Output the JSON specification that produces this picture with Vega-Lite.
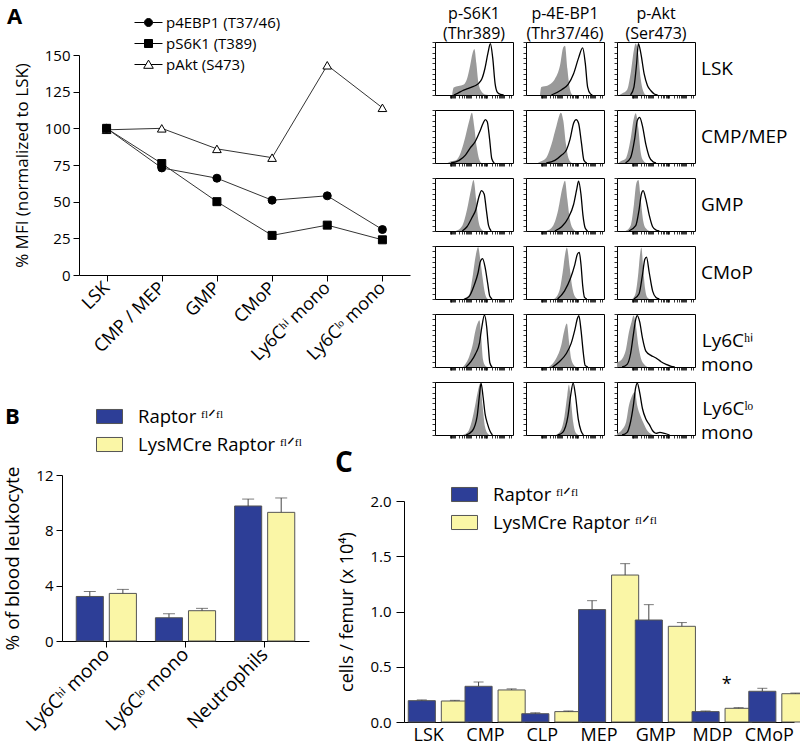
{
"$schema": "https://vega.github.io/schema/vega-lite/v6.json",
"padding": {"left": 3, "top": 6, "right": 2, "bottom": 0},
"config": {
  "font": "Open Sans",
  "view": {"stroke": "black", "strokeWidth": 1},
  "axis": {"domainColor": "black", "tickColor": "black", "labelColor": "black", "titleColor": "black", "grid": false, "titleFontWeight": "normal", "domainWidth": 1, "tickWidth": 1},
  "legend": {"labelColor": "black", "padding": 0, "labelLimit": 400},
  "title": {"fontWeight": "bold", "fontSize": 22, "anchor": "start", "color": "black", "offset": 0, "frame": "group"},
  "header": {"labelColor": "black"}
},
"datasets": {
  "a": [
    {"pop":"LSK","i":0,"m":"pAkt (S473)","v":99},
    {"pop":"CMP / MEP","i":1,"m":"pAkt (S473)","v":100},
    {"pop":"GMP","i":2,"m":"pAkt (S473)","v":86},
    {"pop":"CMoP","i":3,"m":"pAkt (S473)","v":80},
    {"pop":"Ly6Cʰⁱ mono","i":4,"m":"pAkt (S473)","v":143},
    {"pop":"Ly6Cˡᵒ mono","i":5,"m":"pAkt (S473)","v":114},
    {"pop":"LSK","i":0,"m":"p4EBP1 (T37/46)","v":100},
    {"pop":"CMP / MEP","i":1,"m":"p4EBP1 (T37/46)","v":73},
    {"pop":"GMP","i":2,"m":"p4EBP1 (T37/46)","v":66},
    {"pop":"CMoP","i":3,"m":"p4EBP1 (T37/46)","v":51},
    {"pop":"Ly6Cʰⁱ mono","i":4,"m":"p4EBP1 (T37/46)","v":54},
    {"pop":"Ly6Cˡᵒ mono","i":5,"m":"p4EBP1 (T37/46)","v":31},
    {"pop":"LSK","i":0,"m":"pS6K1 (T389)","v":100},
    {"pop":"CMP / MEP","i":1,"m":"pS6K1 (T389)","v":76},
    {"pop":"GMP","i":2,"m":"pS6K1 (T389)","v":50},
    {"pop":"CMoP","i":3,"m":"pS6K1 (T389)","v":27},
    {"pop":"Ly6Cʰⁱ mono","i":4,"m":"pS6K1 (T389)","v":34},
    {"pop":"Ly6Cˡᵒ mono","i":5,"m":"pS6K1 (T389)","v":24}
  ],
  "b": [
    {"cell":"Ly6Cʰⁱ mono","g":"R","v":3.22,"e":3.58},
    {"cell":"Ly6Cʰⁱ mono","g":"L","v":3.44,"e":3.73},
    {"cell":"Ly6Cˡᵒ mono","g":"R","v":1.68,"e":1.97},
    {"cell":"Ly6Cˡᵒ mono","g":"L","v":2.19,"e":2.36},
    {"cell":"Neutrophils","g":"R","v":9.76,"e":10.26},
    {"cell":"Neutrophils","g":"L","v":9.30,"e":10.34}
  ],
  "c": [
    {"cell":"LSK","g":"R","v":0.193,"e":0.2,"sig":""},
    {"cell":"LSK","g":"L","v":0.19,"e":0.196,"sig":""},
    {"cell":"CMP","g":"R","v":0.323,"e":0.362,"sig":""},
    {"cell":"CMP","g":"L","v":0.29,"e":0.3,"sig":""},
    {"cell":"CLP","g":"R","v":0.075,"e":0.084,"sig":""},
    {"cell":"CLP","g":"L","v":0.094,"e":0.1,"sig":""},
    {"cell":"MEP","g":"R","v":1.017,"e":1.098,"sig":""},
    {"cell":"MEP","g":"L","v":1.33,"e":1.433,"sig":""},
    {"cell":"GMP","g":"R","v":0.923,"e":1.062,"sig":""},
    {"cell":"GMP","g":"L","v":0.866,"e":0.9,"sig":""},
    {"cell":"MDP","g":"R","v":0.094,"e":0.1,"sig":""},
    {"cell":"MDP","g":"L","v":0.124,"e":0.13,"sig":"*"},
    {"cell":"CMoP","g":"R","v":0.278,"e":0.305,"sig":""},
    {"cell":"CMoP","g":"L","v":0.256,"e":0.262,"sig":""}
  ],
  "h": [
    {"p":"LSK","a":"S6K1","s":"i","x":22,"y":0},{"p":"LSK","a":"S6K1","s":"i","x":24,"y":14},{"p":"LSK","a":"S6K1","s":"i","x":30,"y":17},{"p":"LSK","a":"S6K1","s":"i","x":37,"y":20},{"p":"LSK","a":"S6K1","s":"i","x":41,"y":30},{"p":"LSK","a":"S6K1","s":"i","x":45,"y":55},{"p":"LSK","a":"S6K1","s":"i","x":48,"y":78},{"p":"LSK","a":"S6K1","s":"i","x":50.5,"y":87},{"p":"LSK","a":"S6K1","s":"i","x":53,"y":60},{"p":"LSK","a":"S6K1","s":"i","x":55.5,"y":25},{"p":"LSK","a":"S6K1","s":"i","x":59,"y":8},{"p":"LSK","a":"S6K1","s":"i","x":64,"y":1},{"p":"LSK","a":"S6K1","s":"i","x":68,"y":0},
    {"p":"LSK","a":"S6K1","s":"t","x":24,"y":0},{"p":"LSK","a":"S6K1","s":"t","x":30,"y":4},{"p":"LSK","a":"S6K1","s":"t","x":35,"y":8},{"p":"LSK","a":"S6K1","s":"t","x":42,"y":12},{"p":"LSK","a":"S6K1","s":"t","x":47,"y":15},{"p":"LSK","a":"S6K1","s":"t","x":52,"y":18},{"p":"LSK","a":"S6K1","s":"t","x":56,"y":22},{"p":"LSK","a":"S6K1","s":"t","x":60,"y":30},{"p":"LSK","a":"S6K1","s":"t","x":64,"y":50},{"p":"LSK","a":"S6K1","s":"t","x":68,"y":80},{"p":"LSK","a":"S6K1","s":"t","x":71,"y":97},{"p":"LSK","a":"S6K1","s":"t","x":74,"y":70},{"p":"LSK","a":"S6K1","s":"t","x":77,"y":22},{"p":"LSK","a":"S6K1","s":"t","x":80,"y":5},{"p":"LSK","a":"S6K1","s":"t","x":84,"y":1},{"p":"LSK","a":"S6K1","s":"t","x":88,"y":0},
    {"p":"LSK","a":"4EBP1","s":"i","x":18,"y":0},{"p":"LSK","a":"4EBP1","s":"i","x":19.6,"y":15},{"p":"LSK","a":"4EBP1","s":"i","x":28,"y":18},{"p":"LSK","a":"4EBP1","s":"i","x":37,"y":30},{"p":"LSK","a":"4EBP1","s":"i","x":43.5,"y":55},{"p":"LSK","a":"4EBP1","s":"i","x":47.8,"y":90},{"p":"LSK","a":"4EBP1","s":"i","x":50,"y":93},{"p":"LSK","a":"4EBP1","s":"i","x":53,"y":50},{"p":"LSK","a":"4EBP1","s":"i","x":56.5,"y":10},{"p":"LSK","a":"4EBP1","s":"i","x":59.6,"y":0},
    {"p":"LSK","a":"4EBP1","s":"t","x":32.6,"y":0},{"p":"LSK","a":"4EBP1","s":"t","x":45.7,"y":10},{"p":"LSK","a":"4EBP1","s":"t","x":54,"y":20},{"p":"LSK","a":"4EBP1","s":"t","x":61,"y":40},{"p":"LSK","a":"4EBP1","s":"t","x":67.4,"y":70},{"p":"LSK","a":"4EBP1","s":"t","x":72.6,"y":89},{"p":"LSK","a":"4EBP1","s":"t","x":76,"y":60},{"p":"LSK","a":"4EBP1","s":"t","x":79,"y":15},{"p":"LSK","a":"4EBP1","s":"t","x":82.6,"y":2},{"p":"LSK","a":"4EBP1","s":"t","x":85,"y":0},
    {"p":"LSK","a":"Akt","s":"i","x":3,"y":0},{"p":"LSK","a":"Akt","s":"i","x":6.5,"y":3},{"p":"LSK","a":"Akt","s":"i","x":13,"y":10},{"p":"LSK","a":"Akt","s":"i","x":17.4,"y":40},{"p":"LSK","a":"Akt","s":"i","x":21.7,"y":85},{"p":"LSK","a":"Akt","s":"i","x":24,"y":97},{"p":"LSK","a":"Akt","s":"i","x":27.4,"y":75},{"p":"LSK","a":"Akt","s":"i","x":30.4,"y":30},{"p":"LSK","a":"Akt","s":"i","x":33.5,"y":8},{"p":"LSK","a":"Akt","s":"i","x":37,"y":0},
    {"p":"LSK","a":"Akt","s":"t","x":17.4,"y":0},{"p":"LSK","a":"Akt","s":"t","x":21.7,"y":15},{"p":"LSK","a":"Akt","s":"t","x":25.2,"y":60},{"p":"LSK","a":"Akt","s":"t","x":27.4,"y":97},{"p":"LSK","a":"Akt","s":"t","x":30.4,"y":80},{"p":"LSK","a":"Akt","s":"t","x":34.8,"y":40},{"p":"LSK","a":"Akt","s":"t","x":39,"y":18},{"p":"LSK","a":"Akt","s":"t","x":43.5,"y":8},{"p":"LSK","a":"Akt","s":"t","x":47.8,"y":2},{"p":"LSK","a":"Akt","s":"t","x":52,"y":0},

    {"p":"CMP","a":"S6K1","s":"i","x":16,"y":0},{"p":"CMP","a":"S6K1","s":"i","x":18.5,"y":2},{"p":"CMP","a":"S6K1","s":"i","x":26.7,"y":5},{"p":"CMP","a":"S6K1","s":"i","x":33,"y":20},{"p":"CMP","a":"S6K1","s":"i","x":39,"y":50},{"p":"CMP","a":"S6K1","s":"i","x":44,"y":80},{"p":"CMP","a":"S6K1","s":"i","x":47.3,"y":95},{"p":"CMP","a":"S6K1","s":"i","x":50.2,"y":70},{"p":"CMP","a":"S6K1","s":"i","x":53.5,"y":30},{"p":"CMP","a":"S6K1","s":"i","x":56.4,"y":8},{"p":"CMP","a":"S6K1","s":"i","x":59.7,"y":0},
    {"p":"CMP","a":"S6K1","s":"t","x":20.6,"y":0},{"p":"CMP","a":"S6K1","s":"t","x":31,"y":5},{"p":"CMP","a":"S6K1","s":"t","x":39,"y":15},{"p":"CMP","a":"S6K1","s":"t","x":45,"y":28},{"p":"CMP","a":"S6K1","s":"t","x":51.4,"y":40},{"p":"CMP","a":"S6K1","s":"t","x":57.6,"y":60},{"p":"CMP","a":"S6K1","s":"t","x":61.7,"y":75},{"p":"CMP","a":"S6K1","s":"t","x":64.6,"y":82},{"p":"CMP","a":"S6K1","s":"t","x":67,"y":78},{"p":"CMP","a":"S6K1","s":"t","x":70,"y":45},{"p":"CMP","a":"S6K1","s":"t","x":72.8,"y":8},{"p":"CMP","a":"S6K1","s":"t","x":76,"y":0},
    {"p":"CMP","a":"4EBP1","s":"i","x":15,"y":0},{"p":"CMP","a":"4EBP1","s":"i","x":17.4,"y":2},{"p":"CMP","a":"4EBP1","s":"i","x":26,"y":10},{"p":"CMP","a":"4EBP1","s":"i","x":32.6,"y":35},{"p":"CMP","a":"4EBP1","s":"i","x":39,"y":70},{"p":"CMP","a":"4EBP1","s":"i","x":44.8,"y":95},{"p":"CMP","a":"4EBP1","s":"i","x":47.8,"y":80},{"p":"CMP","a":"4EBP1","s":"i","x":51.3,"y":35},{"p":"CMP","a":"4EBP1","s":"i","x":54.3,"y":10},{"p":"CMP","a":"4EBP1","s":"i","x":58.7,"y":0},
    {"p":"CMP","a":"4EBP1","s":"t","x":26,"y":0},{"p":"CMP","a":"4EBP1","s":"t","x":37,"y":5},{"p":"CMP","a":"4EBP1","s":"t","x":45.7,"y":15},{"p":"CMP","a":"4EBP1","s":"t","x":52,"y":25},{"p":"CMP","a":"4EBP1","s":"t","x":56.5,"y":45},{"p":"CMP","a":"4EBP1","s":"t","x":61,"y":75},{"p":"CMP","a":"4EBP1","s":"t","x":64.3,"y":82},{"p":"CMP","a":"4EBP1","s":"t","x":67.4,"y":75},{"p":"CMP","a":"4EBP1","s":"t","x":70.9,"y":40},{"p":"CMP","a":"4EBP1","s":"t","x":74.3,"y":5},{"p":"CMP","a":"4EBP1","s":"t","x":78,"y":0},
    {"p":"CMP","a":"Akt","s":"i","x":2,"y":0},{"p":"CMP","a":"Akt","s":"i","x":4.3,"y":3},{"p":"CMP","a":"Akt","s":"i","x":10.9,"y":8},{"p":"CMP","a":"Akt","s":"i","x":17.4,"y":45},{"p":"CMP","a":"Akt","s":"i","x":21.7,"y":85},{"p":"CMP","a":"Akt","s":"i","x":24,"y":94},{"p":"CMP","a":"Akt","s":"i","x":27.4,"y":65},{"p":"CMP","a":"Akt","s":"i","x":30.4,"y":20},{"p":"CMP","a":"Akt","s":"i","x":33.5,"y":5},{"p":"CMP","a":"Akt","s":"i","x":37,"y":0},
    {"p":"CMP","a":"Akt","s":"t","x":10.9,"y":0},{"p":"CMP","a":"Akt","s":"t","x":17.4,"y":10},{"p":"CMP","a":"Akt","s":"t","x":22.6,"y":45},{"p":"CMP","a":"Akt","s":"t","x":26,"y":80},{"p":"CMP","a":"Akt","s":"t","x":29,"y":86},{"p":"CMP","a":"Akt","s":"t","x":32.6,"y":70},{"p":"CMP","a":"Akt","s":"t","x":37,"y":35},{"p":"CMP","a":"Akt","s":"t","x":41.3,"y":12},{"p":"CMP","a":"Akt","s":"t","x":45.7,"y":3},{"p":"CMP","a":"Akt","s":"t","x":50,"y":0},

    {"p":"GMP","a":"S6K1","s":"i","x":26.7,"y":0},{"p":"GMP","a":"S6K1","s":"i","x":35,"y":10},{"p":"GMP","a":"S6K1","s":"i","x":41,"y":40},{"p":"GMP","a":"S6K1","s":"i","x":46.5,"y":80},{"p":"GMP","a":"S6K1","s":"i","x":49.4,"y":96},{"p":"GMP","a":"S6K1","s":"i","x":52.7,"y":60},{"p":"GMP","a":"S6K1","s":"i","x":55.6,"y":20},{"p":"GMP","a":"S6K1","s":"i","x":59.7,"y":3},{"p":"GMP","a":"S6K1","s":"i","x":63,"y":0},
    {"p":"GMP","a":"S6K1","s":"t","x":35,"y":0},{"p":"GMP","a":"S6K1","s":"t","x":41,"y":8},{"p":"GMP","a":"S6K1","s":"t","x":47.3,"y":25},{"p":"GMP","a":"S6K1","s":"t","x":52.3,"y":40},{"p":"GMP","a":"S6K1","s":"t","x":56.4,"y":65},{"p":"GMP","a":"S6K1","s":"t","x":59.7,"y":76},{"p":"GMP","a":"S6K1","s":"t","x":63,"y":70},{"p":"GMP","a":"S6K1","s":"t","x":65.8,"y":40},{"p":"GMP","a":"S6K1","s":"t","x":68.7,"y":10},{"p":"GMP","a":"S6K1","s":"t","x":72,"y":0},
    {"p":"GMP","a":"4EBP1","s":"i","x":26,"y":0},{"p":"GMP","a":"4EBP1","s":"i","x":34.8,"y":10},{"p":"GMP","a":"4EBP1","s":"i","x":41.3,"y":40},{"p":"GMP","a":"4EBP1","s":"i","x":46.5,"y":80},{"p":"GMP","a":"4EBP1","s":"i","x":50,"y":95},{"p":"GMP","a":"4EBP1","s":"i","x":53,"y":60},{"p":"GMP","a":"4EBP1","s":"i","x":56.5,"y":20},{"p":"GMP","a":"4EBP1","s":"i","x":61,"y":3},{"p":"GMP","a":"4EBP1","s":"i","x":64,"y":0},
    {"p":"GMP","a":"4EBP1","s":"t","x":37,"y":0},{"p":"GMP","a":"4EBP1","s":"t","x":45.7,"y":8},{"p":"GMP","a":"4EBP1","s":"t","x":54.3,"y":25},{"p":"GMP","a":"4EBP1","s":"t","x":61,"y":50},{"p":"GMP","a":"4EBP1","s":"t","x":65.2,"y":80},{"p":"GMP","a":"4EBP1","s":"t","x":67.4,"y":94},{"p":"GMP","a":"4EBP1","s":"t","x":70.4,"y":70},{"p":"GMP","a":"4EBP1","s":"t","x":73,"y":30},{"p":"GMP","a":"4EBP1","s":"t","x":76,"y":5},{"p":"GMP","a":"4EBP1","s":"t","x":79,"y":0},
    {"p":"GMP","a":"Akt","s":"i","x":10.9,"y":0},{"p":"GMP","a":"Akt","s":"i","x":17.4,"y":10},{"p":"GMP","a":"Akt","s":"i","x":21.7,"y":50},{"p":"GMP","a":"Akt","s":"i","x":24.8,"y":90},{"p":"GMP","a":"Akt","s":"i","x":27.4,"y":96},{"p":"GMP","a":"Akt","s":"i","x":30.4,"y":60},{"p":"GMP","a":"Akt","s":"i","x":33.5,"y":20},{"p":"GMP","a":"Akt","s":"i","x":37,"y":5},{"p":"GMP","a":"Akt","s":"i","x":41.3,"y":0},
    {"p":"GMP","a":"Akt","s":"t","x":15.2,"y":0},{"p":"GMP","a":"Akt","s":"t","x":24,"y":10},{"p":"GMP","a":"Akt","s":"t","x":28.3,"y":40},{"p":"GMP","a":"Akt","s":"t","x":31.3,"y":70},{"p":"GMP","a":"Akt","s":"t","x":33.5,"y":76},{"p":"GMP","a":"Akt","s":"t","x":37,"y":60},{"p":"GMP","a":"Akt","s":"t","x":41.3,"y":30},{"p":"GMP","a":"Akt","s":"t","x":45.7,"y":8},{"p":"GMP","a":"Akt","s":"t","x":50,"y":2},{"p":"GMP","a":"Akt","s":"t","x":54.3,"y":0},

    {"p":"CMoP","a":"S6K1","s":"i","x":35.8,"y":0},{"p":"CMoP","a":"S6K1","s":"i","x":43.9,"y":8},{"p":"CMoP","a":"S6K1","s":"i","x":48,"y":40},{"p":"CMoP","a":"S6K1","s":"i","x":52,"y":80},{"p":"CMoP","a":"S6K1","s":"i","x":55.3,"y":98},{"p":"CMoP","a":"S6K1","s":"i","x":58,"y":75},{"p":"CMoP","a":"S6K1","s":"i","x":61,"y":40},{"p":"CMoP","a":"S6K1","s":"i","x":64.2,"y":10},{"p":"CMoP","a":"S6K1","s":"i","x":67.5,"y":0},
    {"p":"CMoP","a":"S6K1","s":"t","x":37.8,"y":0},{"p":"CMoP","a":"S6K1","s":"t","x":43.9,"y":5},{"p":"CMoP","a":"S6K1","s":"t","x":50,"y":25},{"p":"CMoP","a":"S6K1","s":"t","x":55.3,"y":50},{"p":"CMoP","a":"S6K1","s":"t","x":58,"y":70},{"p":"CMoP","a":"S6K1","s":"t","x":61,"y":76},{"p":"CMoP","a":"S6K1","s":"t","x":64.2,"y":60},{"p":"CMoP","a":"S6K1","s":"t","x":67.5,"y":30},{"p":"CMoP","a":"S6K1","s":"t","x":70.3,"y":5},{"p":"CMoP","a":"S6K1","s":"t","x":73.2,"y":0},
    {"p":"CMoP","a":"4EBP1","s":"i","x":36,"y":0},{"p":"CMoP","a":"4EBP1","s":"i","x":42.7,"y":15},{"p":"CMoP","a":"4EBP1","s":"i","x":47,"y":50},{"p":"CMoP","a":"4EBP1","s":"i","x":50.2,"y":85},{"p":"CMoP","a":"4EBP1","s":"i","x":52.4,"y":97},{"p":"CMoP","a":"4EBP1","s":"i","x":56,"y":60},{"p":"CMoP","a":"4EBP1","s":"i","x":59,"y":25},{"p":"CMoP","a":"4EBP1","s":"i","x":62.6,"y":5},{"p":"CMoP","a":"4EBP1","s":"i","x":66,"y":0},
    {"p":"CMoP","a":"4EBP1","s":"t","x":40.5,"y":0},{"p":"CMoP","a":"4EBP1","s":"t","x":49.3,"y":15},{"p":"CMoP","a":"4EBP1","s":"t","x":57.3,"y":40},{"p":"CMoP","a":"4EBP1","s":"t","x":62.6,"y":65},{"p":"CMoP","a":"4EBP1","s":"t","x":66,"y":85},{"p":"CMoP","a":"4EBP1","s":"t","x":68.3,"y":88},{"p":"CMoP","a":"4EBP1","s":"t","x":70.5,"y":65},{"p":"CMoP","a":"4EBP1","s":"t","x":72.7,"y":25},{"p":"CMoP","a":"4EBP1","s":"t","x":75,"y":3},{"p":"CMoP","a":"4EBP1","s":"t","x":78,"y":0},
    {"p":"CMoP","a":"Akt","s":"i","x":19.6,"y":0},{"p":"CMoP","a":"Akt","s":"i","x":24,"y":12},{"p":"CMoP","a":"Akt","s":"i","x":27.4,"y":50},{"p":"CMoP","a":"Akt","s":"i","x":29.6,"y":85},{"p":"CMoP","a":"Akt","s":"i","x":31.3,"y":97},{"p":"CMoP","a":"Akt","s":"i","x":33.5,"y":60},{"p":"CMoP","a":"Akt","s":"i","x":36,"y":20},{"p":"CMoP","a":"Akt","s":"i","x":39,"y":3},{"p":"CMoP","a":"Akt","s":"i","x":42,"y":0},
    {"p":"CMoP","a":"Akt","s":"t","x":21.7,"y":0},{"p":"CMoP","a":"Akt","s":"t","x":28.3,"y":10},{"p":"CMoP","a":"Akt","s":"t","x":32.6,"y":45},{"p":"CMoP","a":"Akt","s":"t","x":35.7,"y":75},{"p":"CMoP","a":"Akt","s":"t","x":37.8,"y":79},{"p":"CMoP","a":"Akt","s":"t","x":41.3,"y":50},{"p":"CMoP","a":"Akt","s":"t","x":45.7,"y":15},{"p":"CMoP","a":"Akt","s":"t","x":50,"y":3},{"p":"CMoP","a":"Akt","s":"t","x":54.3,"y":0},

    {"p":"hi","a":"S6K1","s":"i","x":35.8,"y":0},{"p":"hi","a":"S6K1","s":"i","x":43.9,"y":20},{"p":"hi","a":"S6K1","s":"i","x":48,"y":40},{"p":"hi","a":"S6K1","s":"i","x":52,"y":70},{"p":"hi","a":"S6K1","s":"i","x":55.3,"y":85},{"p":"hi","a":"S6K1","s":"i","x":57,"y":88},{"p":"hi","a":"S6K1","s":"i","x":59.3,"y":55},{"p":"hi","a":"S6K1","s":"i","x":61.4,"y":15},{"p":"hi","a":"S6K1","s":"i","x":64.2,"y":3},{"p":"hi","a":"S6K1","s":"i","x":67.5,"y":0},
    {"p":"hi","a":"S6K1","s":"t","x":39.8,"y":0},{"p":"hi","a":"S6K1","s":"t","x":46,"y":10},{"p":"hi","a":"S6K1","s":"t","x":52,"y":25},{"p":"hi","a":"S6K1","s":"t","x":57,"y":45},{"p":"hi","a":"S6K1","s":"t","x":60,"y":75},{"p":"hi","a":"S6K1","s":"t","x":63.4,"y":98},{"p":"hi","a":"S6K1","s":"t","x":66.3,"y":75},{"p":"hi","a":"S6K1","s":"t","x":68.3,"y":40},{"p":"hi","a":"S6K1","s":"t","x":70.3,"y":8},{"p":"hi","a":"S6K1","s":"t","x":73.2,"y":0},
    {"p":"hi","a":"4EBP1","s":"i","x":29.5,"y":0},{"p":"hi","a":"4EBP1","s":"i","x":38.3,"y":15},{"p":"hi","a":"4EBP1","s":"i","x":45,"y":40},{"p":"hi","a":"4EBP1","s":"i","x":49.3,"y":70},{"p":"hi","a":"4EBP1","s":"i","x":52.4,"y":82},{"p":"hi","a":"4EBP1","s":"i","x":55,"y":50},{"p":"hi","a":"4EBP1","s":"i","x":58,"y":15},{"p":"hi","a":"4EBP1","s":"i","x":61.7,"y":3},{"p":"hi","a":"4EBP1","s":"i","x":64.8,"y":0},
    {"p":"hi","a":"4EBP1","s":"t","x":34,"y":0},{"p":"hi","a":"4EBP1","s":"t","x":42.7,"y":10},{"p":"hi","a":"4EBP1","s":"t","x":51.5,"y":25},{"p":"hi","a":"4EBP1","s":"t","x":58,"y":45},{"p":"hi","a":"4EBP1","s":"t","x":62.6,"y":70},{"p":"hi","a":"4EBP1","s":"t","x":66,"y":92},{"p":"hi","a":"4EBP1","s":"t","x":67.8,"y":97},{"p":"hi","a":"4EBP1","s":"t","x":70.5,"y":70},{"p":"hi","a":"4EBP1","s":"t","x":73.6,"y":25},{"p":"hi","a":"4EBP1","s":"t","x":75.8,"y":3},{"p":"hi","a":"4EBP1","s":"t","x":79.3,"y":0},
    {"p":"hi","a":"Akt","s":"i","x":0,"y":8},{"p":"hi","a":"Akt","s":"i","x":2.2,"y":10},{"p":"hi","a":"Akt","s":"i","x":6.5,"y":15},{"p":"hi","a":"Akt","s":"i","x":11.7,"y":35},{"p":"hi","a":"Akt","s":"i","x":15.2,"y":65},{"p":"hi","a":"Akt","s":"i","x":18.7,"y":85},{"p":"hi","a":"Akt","s":"i","x":21.3,"y":97},{"p":"hi","a":"Akt","s":"i","x":24,"y":80},{"p":"hi","a":"Akt","s":"i","x":27.4,"y":40},{"p":"hi","a":"Akt","s":"i","x":30.4,"y":18},{"p":"hi","a":"Akt","s":"i","x":34.8,"y":5},{"p":"hi","a":"Akt","s":"i","x":39,"y":0},
    {"p":"hi","a":"Akt","s":"t","x":6.5,"y":0},{"p":"hi","a":"Akt","s":"t","x":13,"y":5},{"p":"hi","a":"Akt","s":"t","x":17.4,"y":25},{"p":"hi","a":"Akt","s":"t","x":20.9,"y":60},{"p":"hi","a":"Akt","s":"t","x":24,"y":90},{"p":"hi","a":"Akt","s":"t","x":26,"y":97},{"p":"hi","a":"Akt","s":"t","x":29.1,"y":85},{"p":"hi","a":"Akt","s":"t","x":32.6,"y":55},{"p":"hi","a":"Akt","s":"t","x":37,"y":30},{"p":"hi","a":"Akt","s":"t","x":43.5,"y":22},{"p":"hi","a":"Akt","s":"t","x":50,"y":17},{"p":"hi","a":"Akt","s":"t","x":56.5,"y":10},{"p":"hi","a":"Akt","s":"t","x":63,"y":5},{"p":"hi","a":"Akt","s":"t","x":69.6,"y":1},{"p":"hi","a":"Akt","s":"t","x":74,"y":0},

    {"p":"lo","a":"S6K1","s":"i","x":35.8,"y":0},{"p":"lo","a":"S6K1","s":"i","x":41.9,"y":5},{"p":"lo","a":"S6K1","s":"i","x":47,"y":25},{"p":"lo","a":"S6K1","s":"i","x":52,"y":60},{"p":"lo","a":"S6K1","s":"i","x":55.3,"y":85},{"p":"lo","a":"S6K1","s":"i","x":58,"y":97},{"p":"lo","a":"S6K1","s":"i","x":61,"y":55},{"p":"lo","a":"S6K1","s":"i","x":64.2,"y":15},{"p":"lo","a":"S6K1","s":"i","x":67.5,"y":3},{"p":"lo","a":"S6K1","s":"i","x":70.3,"y":0},
    {"p":"lo","a":"S6K1","s":"t","x":39.8,"y":0},{"p":"lo","a":"S6K1","s":"t","x":48,"y":8},{"p":"lo","a":"S6K1","s":"t","x":54,"y":35},{"p":"lo","a":"S6K1","s":"t","x":57,"y":75},{"p":"lo","a":"S6K1","s":"t","x":59,"y":98},{"p":"lo","a":"S6K1","s":"t","x":61.4,"y":75},{"p":"lo","a":"S6K1","s":"t","x":64.2,"y":40},{"p":"lo","a":"S6K1","s":"t","x":67.5,"y":20},{"p":"lo","a":"S6K1","s":"t","x":70.3,"y":8},{"p":"lo","a":"S6K1","s":"t","x":73.6,"y":0},
    {"p":"lo","a":"4EBP1","s":"i","x":38.3,"y":0},{"p":"lo","a":"4EBP1","s":"i","x":45,"y":10},{"p":"lo","a":"4EBP1","s":"i","x":49.3,"y":35},{"p":"lo","a":"4EBP1","s":"i","x":52.9,"y":75},{"p":"lo","a":"4EBP1","s":"i","x":55,"y":95},{"p":"lo","a":"4EBP1","s":"i","x":57.3,"y":70},{"p":"lo","a":"4EBP1","s":"i","x":60.4,"y":25},{"p":"lo","a":"4EBP1","s":"i","x":63.4,"y":5},{"p":"lo","a":"4EBP1","s":"i","x":67,"y":0},
    {"p":"lo","a":"4EBP1","s":"t","x":40.5,"y":0},{"p":"lo","a":"4EBP1","s":"t","x":47.1,"y":5},{"p":"lo","a":"4EBP1","s":"t","x":53.7,"y":35},{"p":"lo","a":"4EBP1","s":"t","x":57.3,"y":75},{"p":"lo","a":"4EBP1","s":"t","x":60.4,"y":98},{"p":"lo","a":"4EBP1","s":"t","x":63.4,"y":75},{"p":"lo","a":"4EBP1","s":"t","x":67,"y":30},{"p":"lo","a":"4EBP1","s":"t","x":70.5,"y":8},{"p":"lo","a":"4EBP1","s":"t","x":73.6,"y":0},
    {"p":"lo","a":"Akt","s":"i","x":0,"y":3},{"p":"lo","a":"Akt","s":"i","x":6.5,"y":10},{"p":"lo","a":"Akt","s":"i","x":11.7,"y":25},{"p":"lo","a":"Akt","s":"i","x":15.2,"y":55},{"p":"lo","a":"Akt","s":"i","x":19.6,"y":75},{"p":"lo","a":"Akt","s":"i","x":23,"y":81},{"p":"lo","a":"Akt","s":"i","x":26,"y":55},{"p":"lo","a":"Akt","s":"i","x":30.4,"y":35},{"p":"lo","a":"Akt","s":"i","x":34.8,"y":20},{"p":"lo","a":"Akt","s":"i","x":39,"y":8},{"p":"lo","a":"Akt","s":"i","x":43.5,"y":2},{"p":"lo","a":"Akt","s":"i","x":47.8,"y":0},
    {"p":"lo","a":"Akt","s":"t","x":6.5,"y":0},{"p":"lo","a":"Akt","s":"t","x":13,"y":5},{"p":"lo","a":"Akt","s":"t","x":17.4,"y":25},{"p":"lo","a":"Akt","s":"t","x":20.9,"y":55},{"p":"lo","a":"Akt","s":"t","x":24,"y":90},{"p":"lo","a":"Akt","s":"t","x":26,"y":98},{"p":"lo","a":"Akt","s":"t","x":29.1,"y":80},{"p":"lo","a":"Akt","s":"t","x":32.6,"y":50},{"p":"lo","a":"Akt","s":"t","x":37,"y":30},{"p":"lo","a":"Akt","s":"t","x":41.3,"y":20},{"p":"lo","a":"Akt","s":"t","x":45.7,"y":8},{"p":"lo","a":"Akt","s":"t","x":50,"y":3},{"p":"lo","a":"Akt","s":"t","x":55,"y":5},{"p":"lo","a":"Akt","s":"t","x":61,"y":3},{"p":"lo","a":"Akt","s":"t","x":67.4,"y":0}
  ]
},
"resolve": {"scale": {"color": "independent", "fill": "independent", "shape": "independent"}, "legend": {"color": "independent", "fill": "independent", "shape": "independent"}},
"spacing": -40,
"vconcat": [
  {
    "resolve": {"scale": {"color": "independent", "fill": "independent", "shape": "independent"}, "legend": {"color": "independent", "fill": "independent", "shape": "independent"}},
    "spacing": -59,
    "hconcat": [
      {"width": 1, "height": 1, "view": {"stroke": null}, "data": {"values": [{"z": 0}]}, "mark": {"type": "point", "opacity": 0}},
      {
        "resolve": {"scale": {"color": "independent", "fill": "independent", "shape": "independent"}, "legend": {"color": "independent", "fill": "independent", "shape": "independent"}},
        "spacing": 21,
        "hconcat": [
          {
            "resolve": {"scale": {"color": "independent", "fill": "independent", "shape": "independent"}, "legend": {"color": "independent", "fill": "independent", "shape": "independent"}},
            "spacing": -40,
            "vconcat": [
              {"width": 1, "height": 1, "view": {"stroke": null}, "data": {"values": [{"z": 0}]}, "mark": {"type": "point", "opacity": 0}},
              {
                "title": {"text": "A", "dx": -72, "dy": 18},
                "width": 331, "height": 220,
                "view": {"stroke": null},
                "data": {"name": "a"},
                "encoding": {
                  "x": {"field": "pop", "type": "ordinal", "sort": ["LSK","CMP / MEP","GMP","CMoP","Ly6Cʰⁱ mono","Ly6Cˡᵒ mono"], "scale": {"type": "point", "padding": 0.5},
                        "axis": {"title": null, "labelAngle": -45, "labelAlign": "right", "labelBaseline": "middle", "labelFontSize": 18, "tickSize": 6, "labelPadding": 4}},
                  "y": {"field": "v", "type": "quantitative", "scale": {"domain": [0, 150], "nice": false},
                        "axis": {"values": [0,25,50,75,100,125,150], "title": "% MFI (normalized to LSK)", "titleFontSize": 17, "labelFontSize": 15, "tickSize": 6, "labelPadding": 3, "titlePadding": 13}}
                },
                "layer": [
                  {"mark": {"type": "line", "color": "#333", "strokeWidth": 1}, "encoding": {"detail": {"field": "m"}, "order": {"field": "i"}}},
                  {"transform": [{"filter": "datum.m === 'pAkt (S473)'"}], "mark": {"type": "point", "shape": "triangle-up", "fill": "white", "stroke": "black", "strokeWidth": 1, "opacity": 1, "size": 75}},
                  {"transform": [{"filter": "datum.m === 'p4EBP1 (T37/46)'"}], "mark": {"type": "point", "shape": "circle", "fill": "black", "stroke": "black", "strokeWidth": 1, "opacity": 1, "size": 64}},
                  {"transform": [{"filter": "datum.m === 'pS6K1 (T389)'"}], "mark": {"type": "point", "shape": "square", "fill": "black", "stroke": "black", "strokeWidth": 1, "opacity": 1, "size": 64}},
                  {"mark": {"type": "point", "stroke": "black", "strokeWidth": 1, "opacity": 0, "size": 64},
                   "encoding": {
                     "fill": {"field": "m", "type": "nominal", "scale": {"domain": ["p4EBP1 (T37/46)","pS6K1 (T389)","pAkt (S473)"], "range": ["black","black","white"]},
                       "legend": {"title": null, "orient": "none", "legendX": 62, "legendY": -40, "symbolSize": 64, "labelFontSize": 15, "labelOffset": 10, "rowPadding": 5, "symbolStrokeWidth": 1, "symbolOpacity": 1}},
                     "shape": {"field": "m", "type": "nominal", "scale": {"domain": ["p4EBP1 (T37/46)","pS6K1 (T389)","pAkt (S473)"],
                         "range": ["M-3.5,0H-1M1,0H3.5M-1,0A1,1,0,1,1,1,0A1,1,0,1,1,-1,0Z", "M-3.5,0H-1M1,0H3.5M-1,-1H1V1H-1Z", "M-3.5,0H-0.63M0.63,0H3.5M0,-1.1L1.2,0.95H-1.2Z"]},
                       "legend": {"title": null, "orient": "none", "legendX": 62, "legendY": -40, "symbolSize": 64, "labelFontSize": 15, "labelOffset": 10, "rowPadding": 5, "symbolStrokeWidth": 1, "symbolOpacity": 1}}
                   }}
                ]
              }
            ]
          },
          {
            "data": {"name": "h"},
            "bounds": "flush",
            "spacing": {"row": 15, "column": 13},
            "resolve": {"axis": {"x": "independent", "y": "independent"}},
            "facet": {
              "row": {"field": "p", "type": "nominal", "sort": ["LSK","CMP","GMP","CMoP","hi","lo"], "title": null,
                      "header": {"labelOrient": "right", "labelAngle": 0, "labelAlign": "right", "labelBaseline": "middle", "labelFontSize": 19, "labelPadding": 6, "labelLineHeight": 24,
                                 "labelExpr": "datum.value === 'hi' ? ['Ly6Cʰⁱ','mono'] : datum.value === 'lo' ? ['Ly6Cˡᵒ','mono'] : datum.value === 'CMP' ? 'CMP/MEP' : datum.value"}},
              "column": {"field": "a", "type": "nominal", "sort": ["S6K1","4EBP1","Akt"], "title": null,
                      "header": {"labelFontSize": 16, "labelPadding": 0, "labelLineHeight": 20,
                                 "labelExpr": "datum.value === 'S6K1' ? ['p-S6K1','(Thr389)'] : datum.value === '4EBP1' ? ['p-4E-BP1','(Thr37/46)'] : ['p-Akt','(Ser473)']"}}
            },
            "spec": {
              "width": 78, "height": 53,
              "encoding": {
                "x": {"field": "x", "type": "quantitative", "scale": {"domain": [0, 100], "nice": false},
                      "axis": {"title": null, "labels": false, "domain": false, "grid": false, "tickSize": 3, "tickWidth": 0.8,
                               "values": [19,20,21,22,23,24,25,31.3,35,37.6,39.7,41.3,42.7,44,45,46,52.3,56,58.6,60.7,62.3,63.7,65,66,67,73.3,77,79.6,81.7,83.3,84.7,86,87,88,94.3,98]}},
                "y": {"field": "y", "type": "quantitative", "scale": {"domain": [0, 100], "nice": false},
                      "axis": {"title": null, "labels": false, "domain": false, "grid": false, "tickSize": 3, "tickWidth": 0.8, "values": [0,10,20,30,40,50,60,70,80,90,100]}}
              },
              "layer": [
                {"transform": [{"filter": "datum.s === 'i'"}], "mark": {"type": "area", "color": "#9a9a9a", "interpolate": "monotone"}},
                {"transform": [{"filter": "datum.s === 't'"}], "mark": {"type": "line", "color": "black", "strokeWidth": 1.3, "interpolate": "monotone"}}
              ]
            }
          }
        ]
      }
    ]
  },
  {
    "resolve": {"scale": {"color": "independent", "fill": "independent", "shape": "independent"}, "legend": {"color": "independent", "fill": "independent", "shape": "independent"}},
    "spacing": 26,
    "hconcat": [
      {
        "title": {"text": "B", "dx": -57, "dy": 30},
        "width": 247, "height": 166,
        "view": {"stroke": null},
        "data": {"name": "b"},
        "encoding": {
          "x": {"field": "cell", "type": "nominal", "sort": ["Ly6Cʰⁱ mono","Ly6Cˡᵒ mono","Neutrophils"], "scale": {"paddingInner": 0.24, "paddingOuter": 0.18},
                "axis": {"title": null, "labelAngle": -45, "labelAlign": "right", "labelBaseline": "middle", "labelFontSize": 19, "tickSize": 6, "labelPadding": 4}},
          "xOffset": {"field": "g", "type": "nominal", "sort": ["R","L"], "scale": {"paddingInner": 0.18}}
        },
        "layer": [
          {"mark": {"type": "bar", "stroke": "#555", "strokeWidth": 1},
           "encoding": {
             "y": {"field": "v", "type": "quantitative", "scale": {"domain": [0, 12], "nice": false},
                   "axis": {"values": [0,2,4,6,8,10,12], "title": "% of blood leukocyte", "titleFontSize": 19, "labelFontSize": 15, "tickSize": 6, "labelPadding": 3, "titlePadding": 13}},
             "color": {"field": "g", "type": "nominal", "scale": {"domain": ["R","L"], "range": ["#2d3e97","#faf6a6"]},
               "legend": {"title": null, "orient": "none", "legendX": 34, "legendY": -72, "symbolType": "M-1,-0.54H1V0.54H-1Z", "symbolSize": 676, "symbolStrokeColor": "#555", "symbolStrokeWidth": 1, "labelFontSize": 18.5, "labelOffset": 15, "rowPadding": 5, "labelLimit": 400,
                          "labelExpr": "datum.value === 'R' ? 'Raptor ᶠˡᐟᶠˡ' : 'LysMCre Raptor ᶠˡᐟᶠˡ'"}}
           }},
          {"mark": {"type": "rule", "color": "#444", "strokeWidth": 1}, "encoding": {"y": {"field": "v", "type": "quantitative"}, "y2": {"field": "e"}}},
          {"mark": {"type": "tick", "color": "#444", "thickness": 1, "size": 12}, "encoding": {"y": {"field": "e", "type": "quantitative"}}}
        ]
      },
      {
        "resolve": {"scale": {"color": "independent", "fill": "independent", "shape": "independent"}, "legend": {"color": "independent", "fill": "independent", "shape": "independent"}},
        "spacing": -32,
        "vconcat": [
          {"width": 1, "height": 7, "view": {"stroke": null}, "data": {"values": [{"z": 0}]}, "mark": {"type": "point", "opacity": 0}},
          {
            "title": {"text": "C", "dx": -69, "dy": 1, "fontSize": 28},
            "width": 390, "height": 221,
            "view": {"stroke": null},
            "data": {"name": "c"},
            "encoding": {
              "x": {"field": "cell", "type": "nominal", "sort": ["LSK","CMP","CLP","MEP","GMP","MDP","CMoP"], "scale": {"paddingInner": 0.278, "paddingOuter": 0.075},
                    "axis": {"title": null, "labelAngle": 0, "labelFontSize": 18, "ticks": false, "tickSize": 0, "labelPadding": 4}},
              "xOffset": {"field": "g", "type": "nominal", "sort": ["R","L"], "scale": {"paddingInner": 0.29}}
            },
            "layer": [
              {"mark": {"type": "bar", "stroke": "#555", "strokeWidth": 1},
               "encoding": {
                 "y": {"field": "v", "type": "quantitative", "scale": {"domain": [0, 2], "nice": false},
                       "axis": {"values": [0,0.5,1,1.5,2], "format": ".1f", "title": "cells / femur (x 10⁴)", "titleFontSize": 18, "labelFontSize": 15, "tickSize": 8, "labelPadding": 5, "titlePadding": 13}},
                 "color": {"field": "g", "type": "nominal", "scale": {"domain": ["R","L"], "range": ["#2d3e97","#faf6a6"]},
                   "legend": {"title": null, "orient": "none", "legendX": 47, "legendY": -20, "symbolType": "M-1,-0.54H1V0.54H-1Z", "symbolSize": 676, "symbolStrokeColor": "#555", "symbolStrokeWidth": 1, "labelFontSize": 18.5, "labelOffset": 15, "rowPadding": 5, "labelLimit": 400,
                              "labelExpr": "datum.value === 'R' ? 'Raptor ᶠˡᐟᶠˡ' : 'LysMCre Raptor ᶠˡᐟᶠˡ'"}}
               }},
              {"mark": {"type": "rule", "color": "#444", "strokeWidth": 1}, "encoding": {"y": {"field": "v", "type": "quantitative"}, "y2": {"field": "e"}}},
              {"mark": {"type": "tick", "color": "#444", "thickness": 1, "size": 10}, "encoding": {"y": {"field": "e", "type": "quantitative"}}},
              {"mark": {"type": "text", "fontSize": 18, "baseline": "alphabetic", "dy": -18, "dx": -12, "color": "black"}, "encoding": {"y": {"field": "e", "type": "quantitative"}, "text": {"field": "sig"}}}
            ]
          }
        ]
      }
    ]
  }
]
}
